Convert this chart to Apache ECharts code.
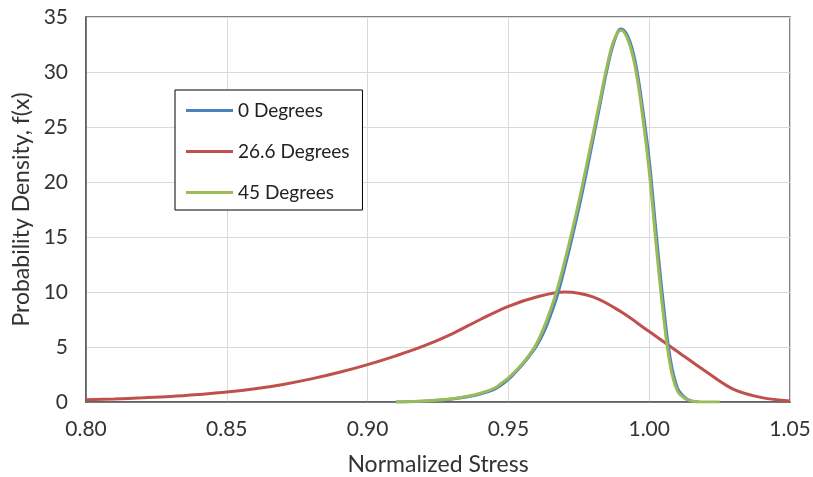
<!DOCTYPE html>
<html>
<head>
<meta charset="utf-8">
<script src="https://cdn.jsdelivr.net/npm/echarts@6/dist/echarts.min.js"></script>
<style>
  html, body { margin: 0; padding: 0; background: #fff; }
  #chart { width: 813px; height: 477px; }
</style>
</head>
<body>
<div id="chart"></div>
<script>
// Probability density of normalized stress for three fibre angles
const seriesNames = ['0 Degrees', '26.6 Degrees', '45 Degrees'];

const stress0 = [0.910, 0.915, 0.920, 0.925, 0.930, 0.935, 0.940, 0.945, 0.9475, 0.950, 0.9525, 0.955, 0.9575, 0.960, 0.9625, 0.965, 0.9675, 0.970, 0.9725, 0.975, 0.9775, 0.980, 0.9825, 0.985, 0.9875, 0.990, 0.9925, 0.995, 0.9975, 1.000, 1.0025, 1.005, 1.0075, 1.010, 1.0125, 1.015, 1.0175];
const density0 = [0, 0.02, 0.07, 0.15, 0.27, 0.45, 0.72, 1.15, 1.55, 2.05, 2.7, 3.4, 4.2, 5.1, 6.3, 7.9, 9.8, 12.2, 14.8, 17.6, 20.6, 23.8, 27.0, 30.2, 32.7, 33.9, 33.2, 31.0, 27.0, 22.0, 15.3, 9.0, 3.9, 1.3, 0.45, 0.1, 0];

const stress26 = [0.80, 0.81, 0.82, 0.83, 0.84, 0.85, 0.86, 0.87, 0.88, 0.89, 0.90, 0.91, 0.92, 0.93, 0.94, 0.95, 0.96, 0.97, 0.98, 0.99, 1.00, 1.01, 1.02, 1.03, 1.04, 1.05];
const density26 = [0.2, 0.28, 0.38, 0.5, 0.68, 0.9, 1.2, 1.6, 2.1, 2.7, 3.4, 4.2, 5.1, 6.2, 7.5, 8.7, 9.55, 10.0, 9.55, 8.2, 6.4, 4.6, 2.8, 1.15, 0.4, 0.1];

const stress45 = [0.910, 0.915, 0.920, 0.925, 0.930, 0.935, 0.940, 0.945, 0.9475, 0.950, 0.9525, 0.955, 0.9575, 0.960, 0.9625, 0.965, 0.9675, 0.970, 0.9725, 0.975, 0.9775, 0.980, 0.9825, 0.985, 0.9875, 0.990, 0.9925, 0.995, 0.9975, 1.000, 1.0025, 1.005, 1.0075, 1.010, 1.0125, 1.015, 1.0175, 1.020, 1.025];
const density45 = [0, 0.03, 0.08, 0.18, 0.3, 0.5, 0.8, 1.25, 1.7, 2.2, 2.8, 3.5, 4.3, 5.3, 6.7, 8.4, 10.4, 12.8, 15.4, 18.2, 21.2, 24.3, 27.4, 30.5, 32.9, 33.8, 32.9, 30.5, 26.3, 21.0, 14.2, 8.0, 3.3, 1.0, 0.35, 0.1, 0.02, 0, 0];

const xTicks = { min: 0.80, max: 1.05, step: 0.05 };
const yTicks = { min: 0, max: 35, step: 5 };

const colors = ['#4F81BD', '#C0504D', '#9BBB59'];
const font = "Lato, 'Open Sans', sans-serif";
const textColor = '#333';

function pairs(xs, ys) { return xs.map((x, i) => [x, ys[i]]); }

const chart = echarts.init(document.getElementById('chart'), null, { renderer: 'canvas' });

function lineSeries(name, data, color, z, smooth) {
  return {
    name: name,
    type: 'line',
    data: data,
    smooth: smooth,
    showSymbol: false,
    symbol: 'none',
    z: z,
    lineStyle: { color: color, width: 3 },
    itemStyle: { color: color }
  };
}

chart.setOption({
  animation: false,
  backgroundColor: '#fff',
  textStyle: { fontFamily: font },
  grid: {
    left: 86, right: 23, top: 17, bottom: 75,
    outerBoundsMode: 'none',
    containLabel: false,
    show: true, borderColor: '#595959', borderWidth: 1.5
  },
  legend: {
    data: seriesNames,
    orient: 'vertical',
    left: 175, top: 90,
    icon: 'rect',
    itemWidth: 47, itemHeight: 3,
    itemGap: 22,
    padding: [11, 13, 8, 11],
    borderColor: '#000', borderWidth: 1,
    backgroundColor: '#fff',
    textStyle: { fontFamily: font, fontSize: 19, color: '#222' }
  },
  xAxis: {
    type: 'value',
    min: xTicks.min, max: xTicks.max, interval: xTicks.step,
    name: 'Normalized Stress',
    nameLocation: 'middle', nameGap: 51,
    nameTextStyle: { fontFamily: font, fontSize: 23, color: textColor },
    axisLine: { show: true, lineStyle: { color: '#595959', width: 1.5 } },
    axisTick: { show: false },
    axisLabel: { margin: 17, fontSize: 21, color: textColor, fontFamily: font, formatter: v => v.toFixed(2) },
    splitLine: { show: true, lineStyle: { color: '#D9D9D9', width: 1 } }
  },
  yAxis: {
    type: 'value',
    min: yTicks.min, max: yTicks.max, interval: yTicks.step,
    name: 'Probability Density, f(x)',
    nameLocation: 'middle', nameGap: 52,
    nameTextStyle: { fontFamily: font, fontSize: 23, color: textColor },
    axisLine: { show: true, lineStyle: { color: '#595959', width: 1.5 } },
    axisTick: { show: false },
    axisLabel: { margin: 18, fontSize: 21, color: textColor, fontFamily: font },
    splitLine: { show: true, lineStyle: { color: '#D9D9D9', width: 1 } }
  },
  series: [
    lineSeries(seriesNames[0], pairs(stress0, density0), colors[0], 3, 0.4),
    lineSeries(seriesNames[1], pairs(stress26, density26), colors[1], 2, 0.35),
    lineSeries(seriesNames[2], pairs(stress45, density45), colors[2], 4, 0.4)
  ]
});
</script>
</body>
</html>
